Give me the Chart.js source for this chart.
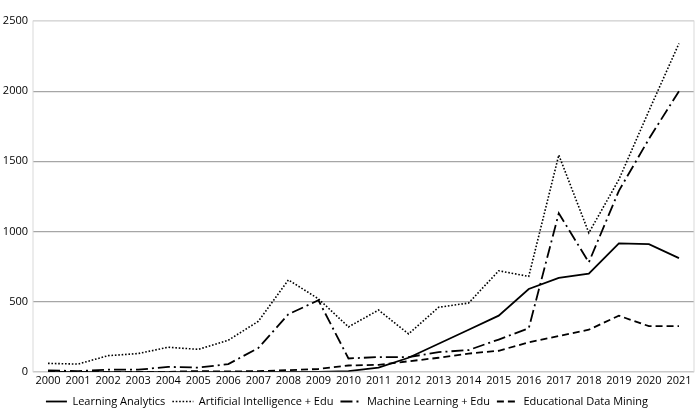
<!DOCTYPE html>
<html>
<head>
<meta charset="utf-8">
<script src="https://cdn.jsdelivr.net/npm/chart.js@4/dist/chart.umd.min.js"></script>
<style>
  html, body { margin: 0; padding: 0; background: #fff; }
  .c-chart { position: relative; width: 700px; height: 417px; }
</style>
</head>
<body>
<div class="c-chart"><canvas class="js-pubs"></canvas></div>
<script>
const years = ['2000', '2001', '2002', '2003', '2004', '2005', '2006', '2007', '2008', '2009', '2010',
  '2011', '2012', '2013', '2014', '2015', '2016', '2017', '2018', '2019', '2020', '2021'];

const learningAnalytics = [0, 0, 0, 0, 0, 0, 0, 0, 0, 0, 5, 30, 100, 200, 300, 400, 590, 670, 700, 915, 910, 810];
const aiEdu = [60, 55, 115, 130, 175, 160, 225, 360, 655, 520, 320, 440, 270, 460, 490, 720, 680, 1545, 990, 1370, 1860, 2340];
const mlEdu = [10, 5, 15, 15, 35, 30, 55, 170, 410, 510, 95, 105, 105, 140, 155, 230, 310, 1130, 780, 1290, 1660, 2000];
const eduDataMining = [0, 0, 0, 0, 0, 5, 2, 5, 12, 20, 45, 50, 75, 100, 130, 150, 210, 255, 300, 400, 325, 325];

const seriesNames = ['Learning Analytics', 'Artificial Intelligence + Edu', 'Machine Learning + Edu', 'Educational Data Mining'];

let pubChart = null;

// light frame round the plot area, like the spreadsheet original
const plotFrame = {
  id: 'plotFrame',
  beforeDatasetsDraw(chart) {
    const a = chart.chartArea;
    const ctx = chart.ctx;
    ctx.save();
    ctx.strokeStyle = '#d9d9d9';
    ctx.lineWidth = 1;
    ctx.strokeRect(a.left, a.top, a.right - a.left, a.bottom - a.top);
    ctx.restore();
  }
};

const makeDataset = function(label, data, dash, width) {
  return {
    label: label,
    data: data,
    borderColor: '#000',
    backgroundColor: '#000',
    borderWidth: width,
    borderDash: dash,
    pointRadius: 0,
    pointStyle: 'line',
    tension: 0,
    fill: false
  };
};

// default legend items lose the dash pattern when point styles are used
const legendLabels = function(chart) {
  const items = Chart.defaults.plugins.legend.labels.generateLabels(chart);
  for (const item of items) {
    const ds = chart.data.datasets[item.datasetIndex];
    item.lineDash = ds.borderDash;
    item.lineWidth = ds.borderWidth;
    item.strokeStyle = '#000';
  }
  return items;
};

const generateChart = function() {
  const font = { family: "'Open Sans', 'Noto Sans', sans-serif", size: 11 };
  const ctx = document.querySelector('.js-pubs').getContext('2d');
  pubChart = new Chart(ctx, {
    type: 'line',
    data: {
      labels: years,
      datasets: [
        makeDataset(seriesNames[0], learningAnalytics, [], 1.8),
        makeDataset(seriesNames[1], aiEdu, [1.6, 1.8], 1.6),
        makeDataset(seriesNames[2], mlEdu, [12, 4, 2, 4], 1.8),
        makeDataset(seriesNames[3], eduDataMining, [7, 4], 1.8)
      ]
    },
    plugins: [plotFrame],
    options: {
      responsive: true,
      maintainAspectRatio: false,
      animation: false,
      layout: { padding: { top: 21, right: 6, left: 0, bottom: 0 } },
      scales: {
        x: {
          offset: true,
          grid: { display: false, drawTicks: false },
          border: { display: false },
          ticks: { color: '#000', font: font, maxRotation: 0, autoSkip: false, padding: 2 }
        },
        y: {
          min: 0,
          max: 2500,
          afterFit: (s) => { s.width = 33; },
          grid: {
            drawTicks: false,
            color: (c) => c.tick && c.tick.value === 2500 ? '#d9d9d9' : '#a6a6a6',
            lineWidth: 1.2
          },
          border: { display: false },
          ticks: { stepSize: 500, color: '#000', font: font, padding: 5, callback: (v) => String(v) }
        }
      },
      plugins: {
        tooltip: { enabled: false },
        legend: {
          position: 'bottom',
          labels: {
            color: '#000',
            font: { family: "'Open Sans', 'Noto Sans', sans-serif", size: 11 },
            usePointStyle: true,
            pointStyleWidth: 21,
            boxHeight: 8,
            padding: 7,
            generateLabels: legendLabels
          }
        }
      }
    }
  });
};

document.addEventListener('DOMContentLoaded', function() {
  generateChart();
});
</script>
</body>
</html>
